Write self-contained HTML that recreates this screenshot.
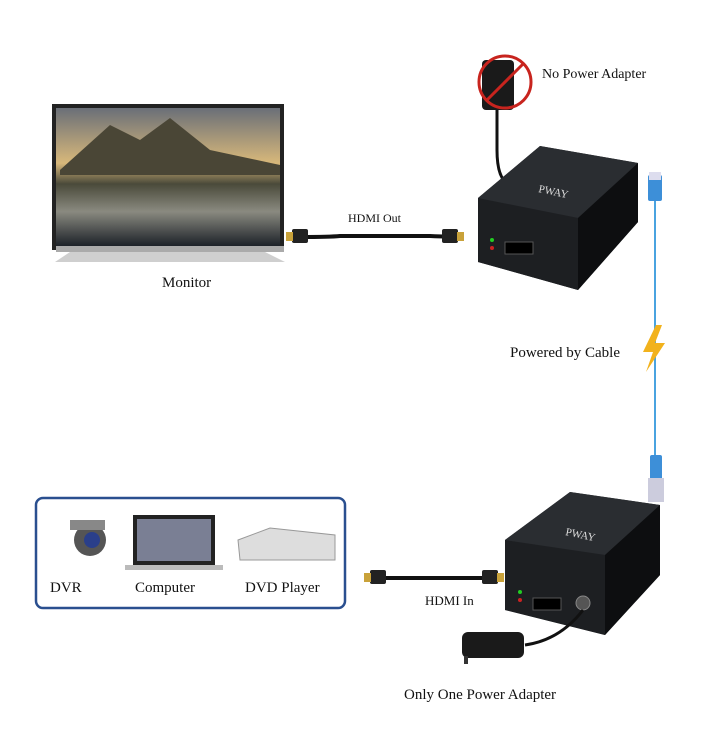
<!DOCTYPE html>
<html><head><meta charset="utf-8"><style>
html,body{margin:0;padding:0;background:#fff;width:701px;height:750px;overflow:hidden}
svg{display:block}
text{font-family:"Liberation Serif",serif;fill:#111}
</style></head><body>
<svg width="701" height="750" viewBox="0 0 701 750">
<defs>
<linearGradient id="sky" x1="0" y1="0" x2="0" y2="1">
<stop offset="0" stop-color="#6a6f78"/><stop offset="0.4" stop-color="#d8b87a"/><stop offset="0.55" stop-color="#4a4a3a"/><stop offset="0.75" stop-color="#8a8a80"/><stop offset="1" stop-color="#1c2128"/></linearGradient>
<linearGradient id="box" x1="0" y1="0" x2="1" y2="1"><stop offset="0" stop-color="#3a3d42"/><stop offset="1" stop-color="#101214"/></linearGradient>
</defs>
<!-- Monitor -->
<rect x="52" y="104" width="232" height="146" fill="#222"/>
<rect x="56" y="108" width="224" height="138" fill="url(#sky)"/>
<polygon points="60,170 110,125 140,140 170,118 210,150 280,165 280,175 60,175" fill="#4a4636"/>
<rect x="56" y="246" width="228" height="6" fill="#aaa"/>
<path d="M70 252 L55 262 L285 262 L265 252 Z" fill="#cfcfcf"/>
<text x="162" y="287" font-size="15">Monitor</text>
<!-- HDMI out cable -->
<path d="M300 237 Q330 237 340 236 L430 236 Q450 237 458 236" stroke="#111" stroke-width="4" fill="none"/>
<rect x="292" y="229" width="16" height="14" rx="2" fill="#222"/><rect x="286" y="232" width="7" height="9" fill="#c9a23a"/>
<rect x="442" y="229" width="16" height="14" rx="2" fill="#222"/><rect x="457" y="232" width="7" height="9" fill="#c9a23a"/>
<text x="348" y="222" font-size="12">HDMI Out</text>
<!-- top adapter -->
<rect x="482" y="60" width="32" height="50" rx="4" fill="#1a1a1a"/>
<circle cx="505" cy="82" r="26" fill="none" stroke="#c8241e" stroke-width="3"/>
<line x1="487" y1="100" x2="523" y2="64" stroke="#c8241e" stroke-width="3"/>
<path d="M497 110 L497 150 Q497 180 510 185" stroke="#111" stroke-width="3" fill="none"/>
<text x="542" y="78" font-size="14">No Power Adapter</text>
<!-- top box -->
<polygon points="478,198 540,146 638,163 638,222 578,290 478,262" fill="url(#box)"/>
<polygon points="478,198 540,146 638,163 578,218" fill="#2a2d31"/>
<polygon points="578,218 638,163 638,222 578,290" fill="#0d0e10"/>
<polygon points="478,198 578,218 578,290 478,262" fill="#1d1f22"/>
<text x="538" y="192" font-size="11" style="fill:#ddd" transform="rotate(12 538 192)">PWAY</text>
<rect x="505" y="242" width="28" height="12" fill="#000" stroke="#555"/>
<circle cx="492" cy="240" r="2" fill="#2c2"/><circle cx="492" cy="248" r="2" fill="#c22"/>
<!-- blue cable -->
<path d="M655 190 L655 480" stroke="#4aa3e0" stroke-width="2" fill="none"/>
<rect x="648" y="175" width="14" height="26" rx="2" fill="#3d8fd8"/>
<rect x="649" y="172" width="12" height="8" fill="#dde"/>
<rect x="650" y="455" width="12" height="30" rx="2" fill="#3d8fd8"/>
<rect x="648" y="478" width="16" height="24" fill="#ccd"/>
<path d="M656 325 L643 352 L653 352 L646 372 L665 343 L655 343 L662 325 Z" fill="#f2b21c"/>
<text x="510" y="357" font-size="15">Powered by Cable</text>
<!-- left box -->
<rect x="36" y="498" width="309" height="110" rx="7" fill="#fff" stroke="#2a4f8f" stroke-width="2.5"/>
<circle cx="90" cy="540" r="16" fill="#555"/><circle cx="92" cy="540" r="8" fill="#2a3f8a"/>
<rect x="70" y="520" width="35" height="10" fill="#888"/>
<text x="50" y="592" font-size="15">DVR</text>
<rect x="133" y="515" width="82" height="50" fill="#222"/><rect x="137" y="519" width="74" height="42" fill="#7a7f94"/>
<rect x="125" y="565" width="98" height="5" fill="#bbb"/>
<text x="135" y="592" font-size="15">Computer</text>
<polygon points="238,540 270,528 335,535 335,560 240,560" fill="#ddd" stroke="#999"/>
<text x="245" y="592" font-size="15">DVD Player</text>
<!-- HDMI in cable -->
<path d="M378 578 L490 578" stroke="#111" stroke-width="4"/>
<rect x="370" y="570" width="16" height="14" rx="2" fill="#222"/><rect x="364" y="573" width="7" height="9" fill="#c9a23a"/>
<rect x="482" y="570" width="16" height="14" rx="2" fill="#222"/><rect x="497" y="573" width="7" height="9" fill="#c9a23a"/>
<text x="425" y="605" font-size="13">HDMI In</text>
<!-- bottom box -->
<polygon points="505,540 570,492 660,505 660,575 605,635 505,610" fill="url(#box)"/>
<polygon points="505,540 570,492 660,505 605,555" fill="#2a2d31"/>
<polygon points="605,555 660,505 660,575 605,635" fill="#0d0e10"/>
<polygon points="505,540 605,555 605,635 505,610" fill="#1d1f22"/>
<text x="565" y="535" font-size="11" style="fill:#ddd" transform="rotate(12 565 535)">PWAY</text>
<rect x="533" y="598" width="28" height="12" fill="#000" stroke="#555"/>
<circle cx="583" cy="603" r="7" fill="#555" stroke="#888"/>
<circle cx="520" cy="592" r="2" fill="#2c2"/><circle cx="520" cy="600" r="2" fill="#c22"/>
<!-- bottom adapter -->
<path d="M525 645 Q560 640 583 610" stroke="#111" stroke-width="3" fill="none"/>
<rect x="462" y="632" width="62" height="26" rx="6" fill="#1a1a1a"/>
<rect x="464" y="656" width="4" height="8" fill="#333"/>
<text x="404" y="699" font-size="15">Only One Power Adapter</text>
</svg>
</body></html>
